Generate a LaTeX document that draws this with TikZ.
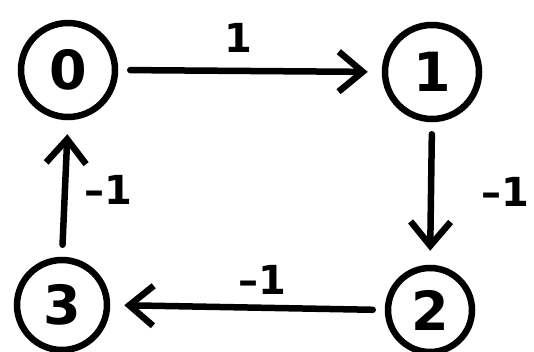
\documentclass[tikz,border=0pt]{standalone}
\usepackage{fontspec}
\setmainfont{DejaVu Sans}
\usetikzlibrary{arrows.meta}
\tikzset{
  vert/.style={draw, circle, line width=6.5pt, minimum size=94pt, inner sep=0pt, font=\bfseries\fontsize{54}{54}\selectfont},
  edge/.style={line width=6.5pt, line cap=round, line join=round, -{Straight Barb[length=24pt,width=40pt,line width=6.5pt]}, shorten <=12pt, shorten >=14pt},
  wlabel/.style={font=\bfseries\fontsize{40}{40}\selectfont, inner sep=0pt}
}
\begin{document}
\begin{tikzpicture}[x=1pt,y=-1pt]
\useasboundingbox (0,0) rectangle (534,352);
\node[vert] (n0) at (68,70) {0};
\node[vert] (n1) at (432,72) {1};
\node[vert, minimum size=84pt] (n2) at (430,310) {2};
\node[vert, minimum size=90pt] (n3) at (62,305) {3};
\draw[edge] (n0.east) -- (n1.west);
\draw[edge] (n1.south) -- (n2.north);
\draw[edge] (n2.west) -- (n3.east);
\draw[edge] (n3.north) -- (n0.south);
\node[wlabel] (l01) at (238,38) {1};
\node[wlabel] (l12) at (505,192) {–1};
\node[wlabel] (l23) at (262,280) {–1};
\node[wlabel] (l30) at (108,190) {–1};
\end{tikzpicture}
\end{document}
